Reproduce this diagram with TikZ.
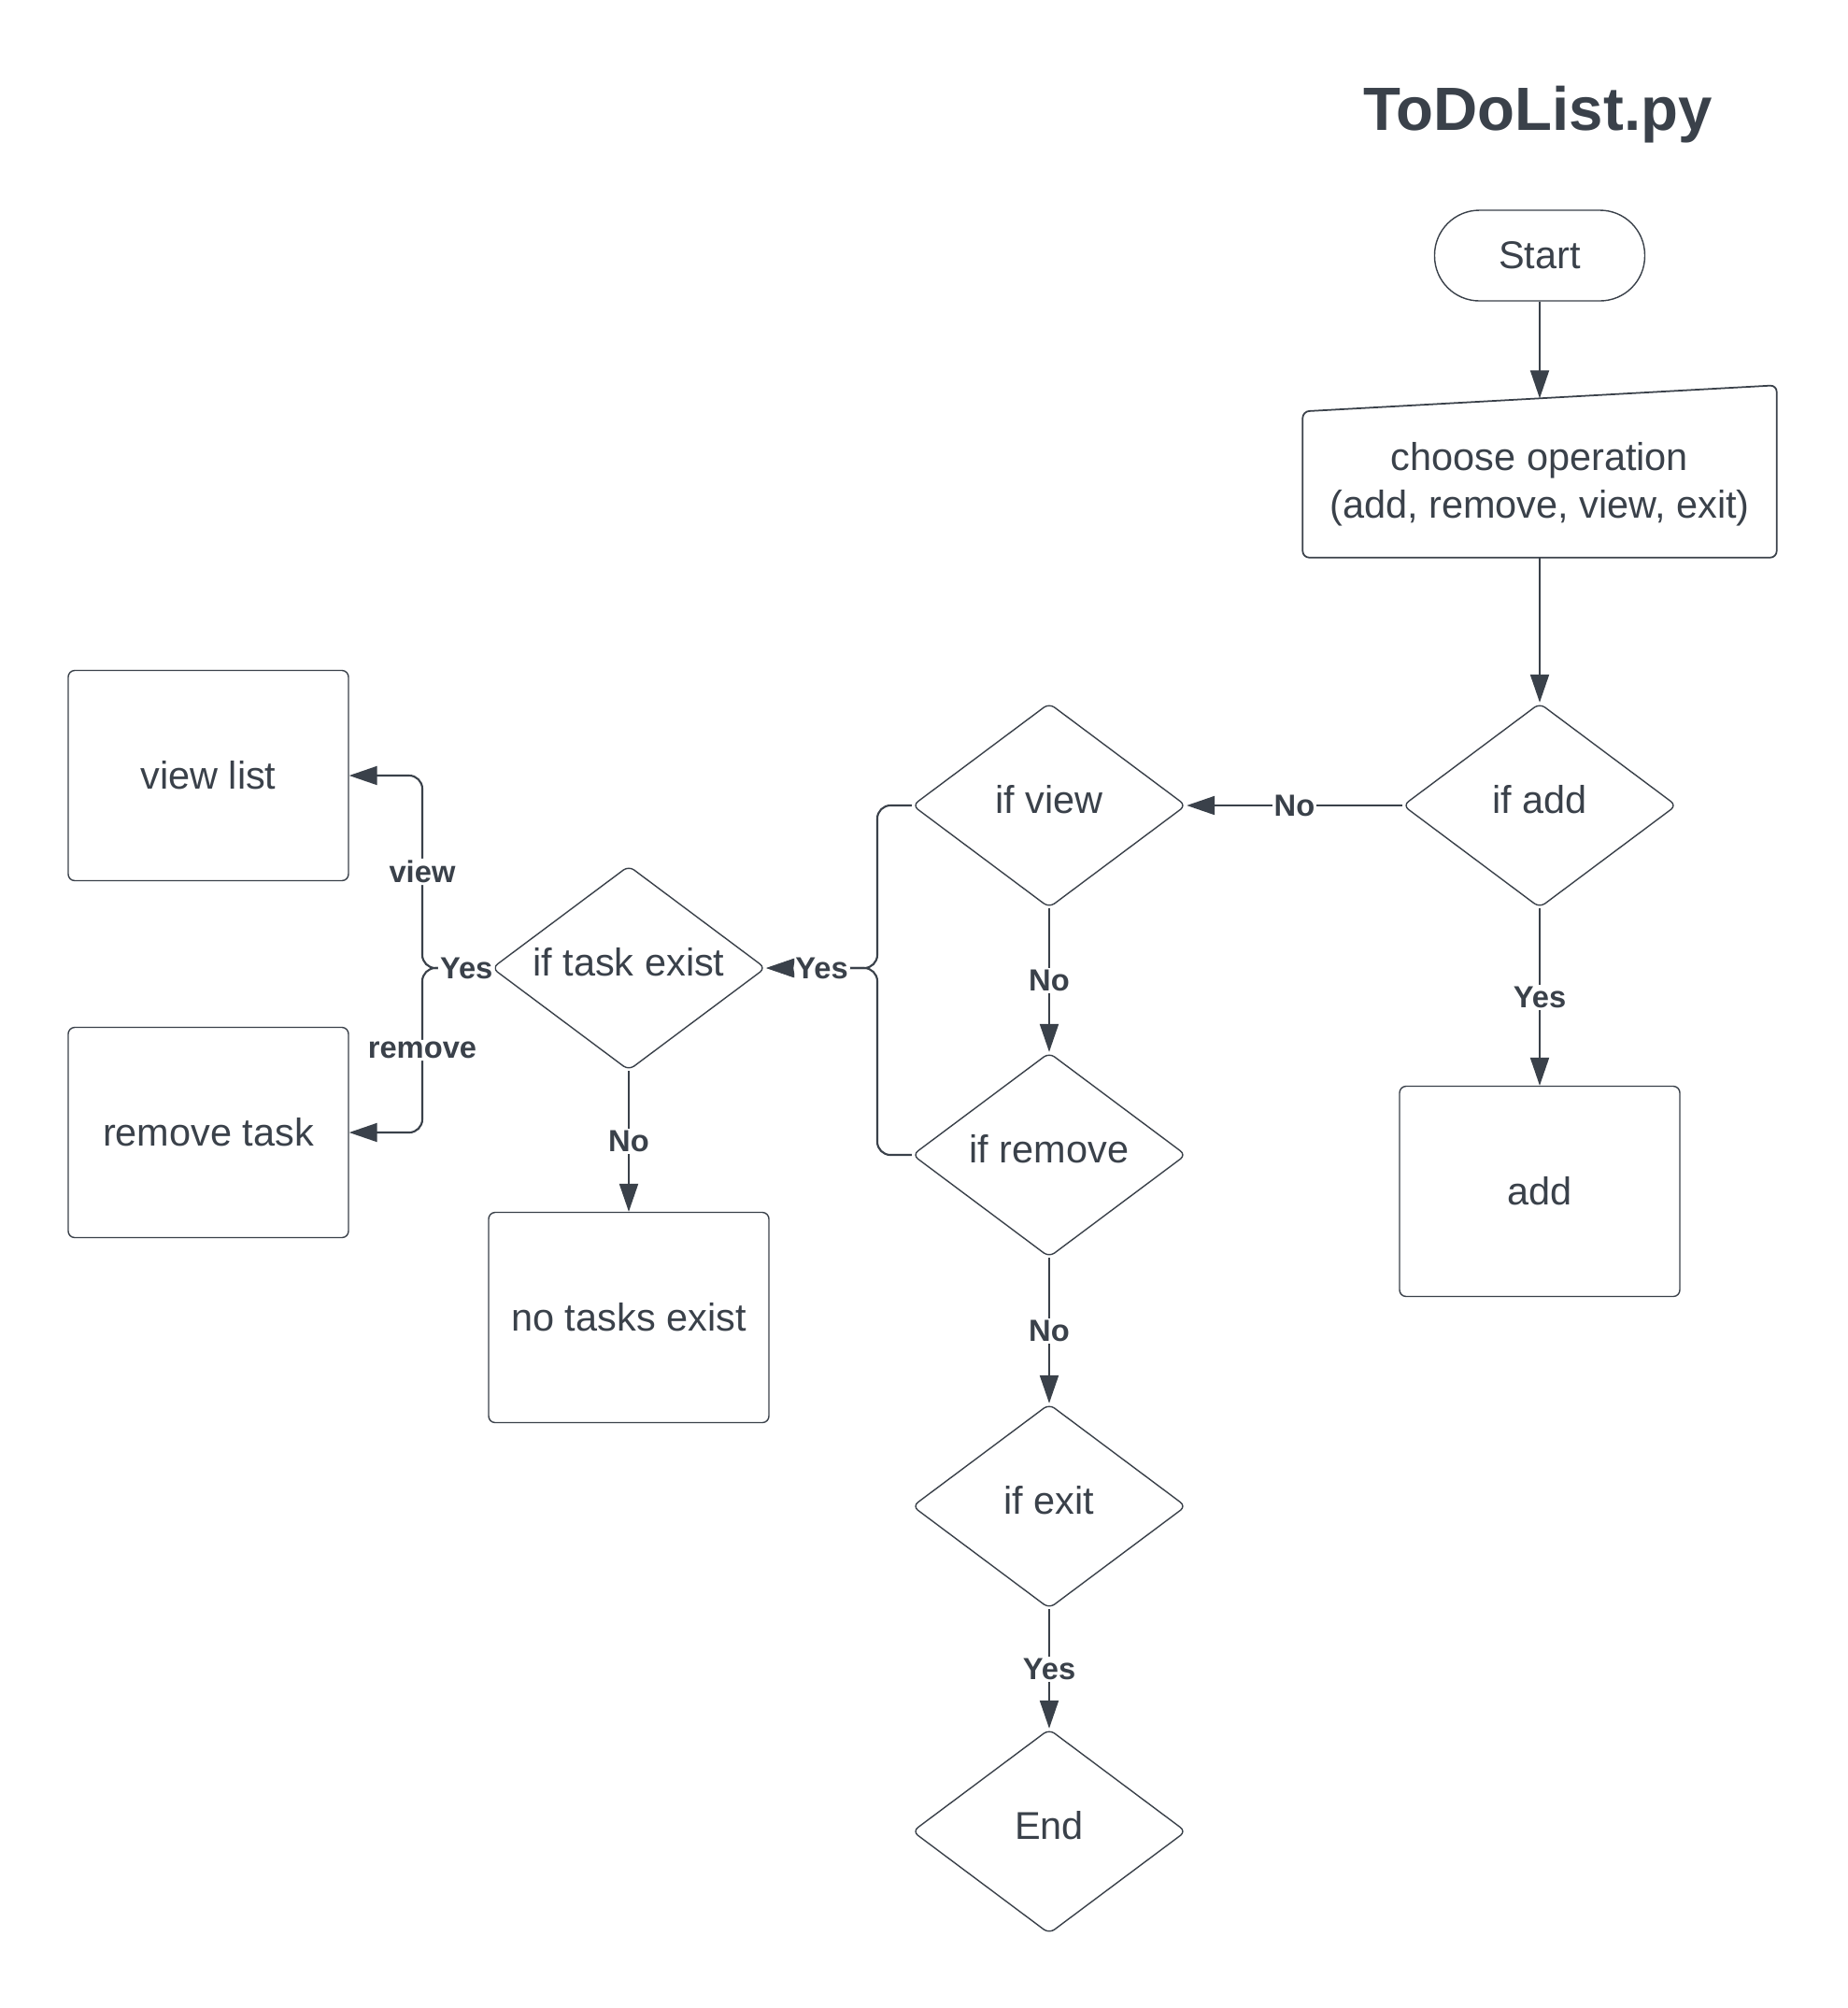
\documentclass[tikz,border=0pt]{standalone}
\usepackage{fontspec}
\setmainfont{Liberation Sans}
\usepackage{xcolor}
\usetikzlibrary{shapes.geometric, arrows.meta, positioning, calc}
\definecolor{ink}{RGB}{58,65,74}
\newcommand{\flowtext}{\fontsize{11.8}{14.4}\selectfont}
\newcommand{\flowtag}{\fontsize{9.3}{11}\selectfont\bfseries}
\newcommand{\flowtitle}{\fontsize{18.6}{22}\selectfont\bfseries}
\newcommand{\dtext}[1]{\makebox[0pt]{\raisebox{4pt}{#1}}}
\tikzset{
	block/.style={rectangle, draw=ink, text=ink, font=\flowtext, text centered, rounded corners=2pt, minimum width=3cm, minimum height=2.25cm},
	decision/.style={diamond, draw=ink, text=ink, font=\flowtext, inner sep=0pt, rounded corners=2pt, minimum width=2.93cm, minimum height=2.19cm},
	line/.style={draw=ink, line width=0.6pt, -{Triangle[length=3mm, width=2mm]}}
}

\begin{document}
\begin{tikzpicture}[
		terminal/.style={rectangle, draw=ink, text=ink, font=\flowtext, rounded corners=0.48cm, minimum width=2.25cm, minimum height=0.97cm},
		% Style for the labels sitting on the lines
		tag/.style={fill=white, text=ink, font=\flowtag, inner sep=0.6pt, pos=0.5}
		]
		\useasboundingbox (0,0) rectangle (19.78,-21.49);
		
		% --- Title and Input ---
		\node[text=ink, font=\flowtitle] (title) at (16.46,-1.23) {ToDoList.py};
		\node[terminal] (start) at (16.48,-2.735) {Start};
		\node[rectangle, text=ink, font=\flowtext, align=center, minimum width=5.06cm, minimum height=1.55cm] (choose_op) at (16.48,-5.185) {choose operation\\(add, remove, view, exit)};
		\draw[ink, line width=0.5pt, rounded corners=2pt] (choose_op.south west) -- (choose_op.north west) -- ($(choose_op.north east)+(0,0.28)$) -- (choose_op.south east) -- cycle;
		\coordinate (op_in) at ($(choose_op.north)+(0,0.14)$);
		
		% --- Decision Column ---
		\node[decision] (if_add) at (16.48,-8.62) {\dtext{if add}};
		\node[decision] (if_view) at (11.23,-8.62) {\dtext{if view}};
		\node[decision] (if_remove) at (11.23,-12.36) {\dtext{if remove}};
		\node[decision] (if_exit) at (11.23,-16.12) {\dtext{if exit}};
		\node[decision] (end) at (11.23,-19.60) {\dtext{End}};
		\node[decision] (task_exist) at (6.73,-10.36) {\dtext{if task exist}};
		
		% --- Action Blocks ---
		\node[block] (add_box) at (16.48,-12.75) {add};
		\node[block] (no_tasks) at (6.73,-14.10) {no tasks exist};
		\node[block] (view_list) at (2.23,-8.30) {view list};
		\node[block] (remove_task) at (2.23,-12.12) {remove task};
		
		% --- Main Flow ---
		\draw[line] (start) -- (op_in);
		\draw[line] (choose_op.south) -- (if_add.north);
		\draw[line] (if_add) -- node[tag] {No} (if_view);
		\draw[line] (if_add) -- node[tag] {Yes} (add_box);
		\draw[line] (if_view) -- node[tag] {No} (if_remove);
		\draw[line] (if_remove) -- node[tag] {No} (if_exit);
		\draw[line] (if_exit) -- node[tag] {Yes} (end);
		\draw[line] (task_exist) -- node[tag] {No} (no_tasks);
		
		% --- Merge of view and remove into the task check ---
		\coordinate (merge) at (9.39,-10.36);
		\draw[line, rounded corners=4pt] (if_remove.west) -| (merge) -- (task_exist.east);
		\draw[line, rounded corners=4pt] (if_view.west) -| (merge) -- node[tag] {Yes} (task_exist.east);
		
		% --- Split to view list / remove task ---
		\coordinate (split) at (4.52,-10.36);
		\draw[line, rounded corners=4pt] (task_exist.west) -- (split) |- node[tag, pos=0.25] {remove} (remove_task.east);
		\draw[line, rounded corners=4pt] (task_exist.west) -- node[tag, pos=0.36] {Yes} (split) |- node[tag, pos=0.25] {view} (view_list.east);
		
	\end{tikzpicture}
\end{document}
